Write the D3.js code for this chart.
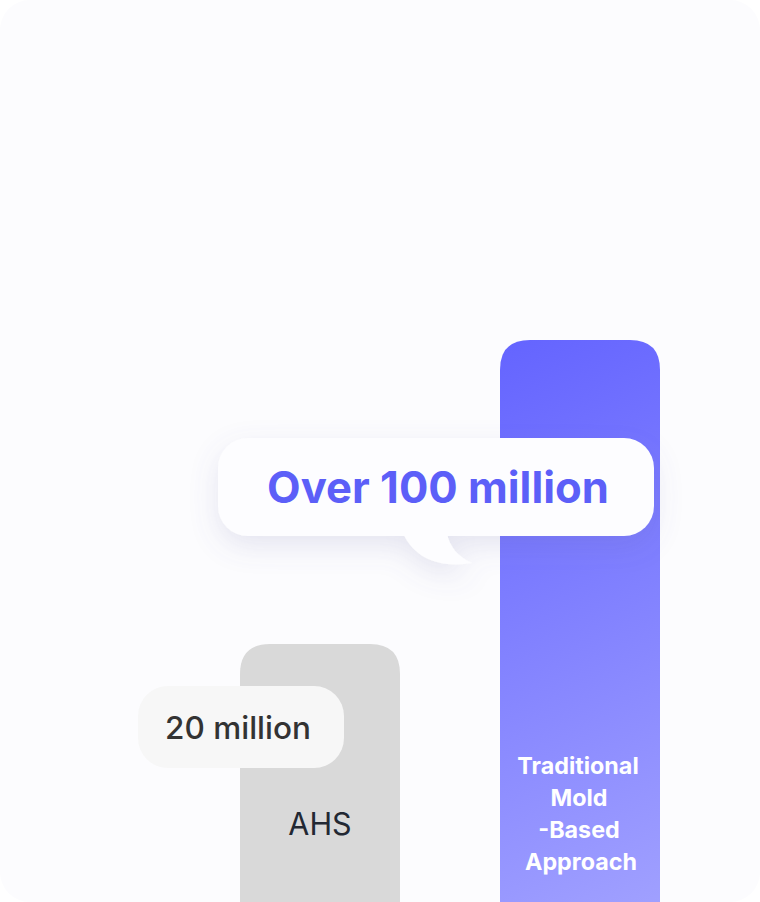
<!DOCTYPE html>
<html><head><meta charset="utf-8">
<script src="https://cdn.jsdelivr.net/npm/d3@7"></script>
<style>
html,body{margin:0;padding:0;background:#ffffff;}
svg{display:block;}
</style></head>
<body>
<script>
const categories = ["AHS", "Traditional Mold-Based Approach"];
const labelLines = [["AHS"], ["Traditional", "Mold", "-Based", "Approach"]];
const values = [20, 100];
const valueLabels = ["20 million", "Over 100 million"];

const W = 760, H = 902;
const svg = d3.select("body").append("svg").attr("width", W).attr("height", H);
const defs = svg.append("defs");

const grad = defs.append("linearGradient").attr("id", "tradGrad")
  .attr("gradientUnits", "userSpaceOnUse")
  .attr("x1", 500).attr("y1", 340).attr("x2", 760).attr("y2", 902);
grad.append("stop").attr("offset", "0%").attr("stop-color", "#6464ff");
grad.append("stop").attr("offset", "100%").attr("stop-color", "#a4a4ff");

const sh = defs.append("filter").attr("id", "shadow")
  .attr("x", "-30%").attr("y", "-50%").attr("width", "160%").attr("height", "220%");
sh.append("feDropShadow").attr("dx", 0).attr("dy", 10).attr("stdDeviation", 14)
  .attr("flood-color", "#6a6aa8").attr("flood-opacity", 0.16);

defs.append("clipPath").attr("id", "card").append("rect")
  .attr("x", 0).attr("y", 0).attr("width", W).attr("height", H).attr("rx", 30);

const g = svg.append("g").attr("clip-path", "url(#card)");
g.append("rect").attr("width", W).attr("height", H).attr("fill", "#fcfcfe");

const x = d3.scaleBand().domain(categories).range([190, 710])
  .paddingInner(100 / 260).paddingOuter(50 / 260);
const y = d3.scaleLinear().domain([20, 100]).range([644, 340]);
const base = H;
const r = 30;

function topRounded(x0, y0, w, h, rr) {
  return `M${x0},${y0 + h} V${y0 + rr} Q${x0},${y0} ${x0 + rr},${y0} H${x0 + w - rr} Q${x0 + w},${y0} ${x0 + w},${y0 + rr} V${y0 + h} Z`;
}

const fills = ["#d9d9d9", "url(#tradGrad)"];
g.selectAll("path.bar").data(categories).enter().append("path")
  .attr("class", "bar")
  .attr("d", (d, i) => topRounded(x(d), y(values[i]), x.bandwidth(), base - y(values[i]), r))
  .attr("fill", (d, i) => fills[i]);

// category labels
const catG = g.append("g");
catG.append("text").attr("x", x(categories[0]) + x.bandwidth() / 2).attr("y", 835)
  .attr("text-anchor", "middle").attr("font-family", "Inter, sans-serif")
  .attr("font-size", 30.5).attr("font-weight", 400).attr("fill", "#222833")
  .text(labelLines[0][0]);
const tt = catG.append("text").attr("text-anchor", "middle")
  .attr("font-family", "Inter, sans-serif").attr("font-size", 23.3)
  .attr("font-weight", 700).attr("fill", "#ffffff");
labelLines[1].forEach((l, i) => {
  tt.append("tspan").attr("x", x(categories[1]) + x.bandwidth() / 2 - 1 + (i === 0 ? -1 : i === 3 ? 2 : 0))
    .attr("y", 774 + i * 32).text(l);
});

// 20 million pill
const ahsX = x(categories[0]);
g.append("rect").attr("x", ahsX - 102).attr("y", y(values[0]) + 42)
  .attr("width", 206).attr("height", 82).attr("rx", 30).attr("fill", "#f7f7f7");
g.append("text").attr("x", ahsX - 2).attr("y", y(values[0]) + 95)
  .attr("text-anchor", "middle").attr("font-family", "Inter, sans-serif")
  .attr("font-size", 31.5).attr("font-weight", 500).attr("fill", "#333333")
  .text(valueLabels[0]);

// Over 100 million bubble
const tX = x(categories[1]);
const by = y(values[1]) + 98;
const bub = g.append("g").attr("filter", "url(#shadow)");
bub.append("path")
  .attr("d", `M${tX - 97},${by + 95} C${tX - 85},${by + 122} ${tX - 58},${by + 130} ${tX - 28},${by + 125} C${tX - 42},${by + 119} ${tX - 51},${by + 108} ${tX - 53},${by + 95} Z`)
  .attr("fill", "#fdfdff");
bub.append("rect").attr("x", tX - 282).attr("y", by).attr("width", 436).attr("height", 98)
  .attr("rx", 30).attr("fill", "#fdfdff");
g.append("rect").attr("x", tX - 99).attr("y", by + 90).attr("width", 50).attr("height", 8).attr("fill", "#fdfdff");
g.append("text").attr("x", tX - 62).attr("y", by + 65)
  .attr("text-anchor", "middle").attr("font-family", "Inter, sans-serif")
  .attr("font-size", 43.6).attr("font-weight", 700).attr("fill", "#5c5ff8")
  .text(valueLabels[1]);
</script>
</body></html>
